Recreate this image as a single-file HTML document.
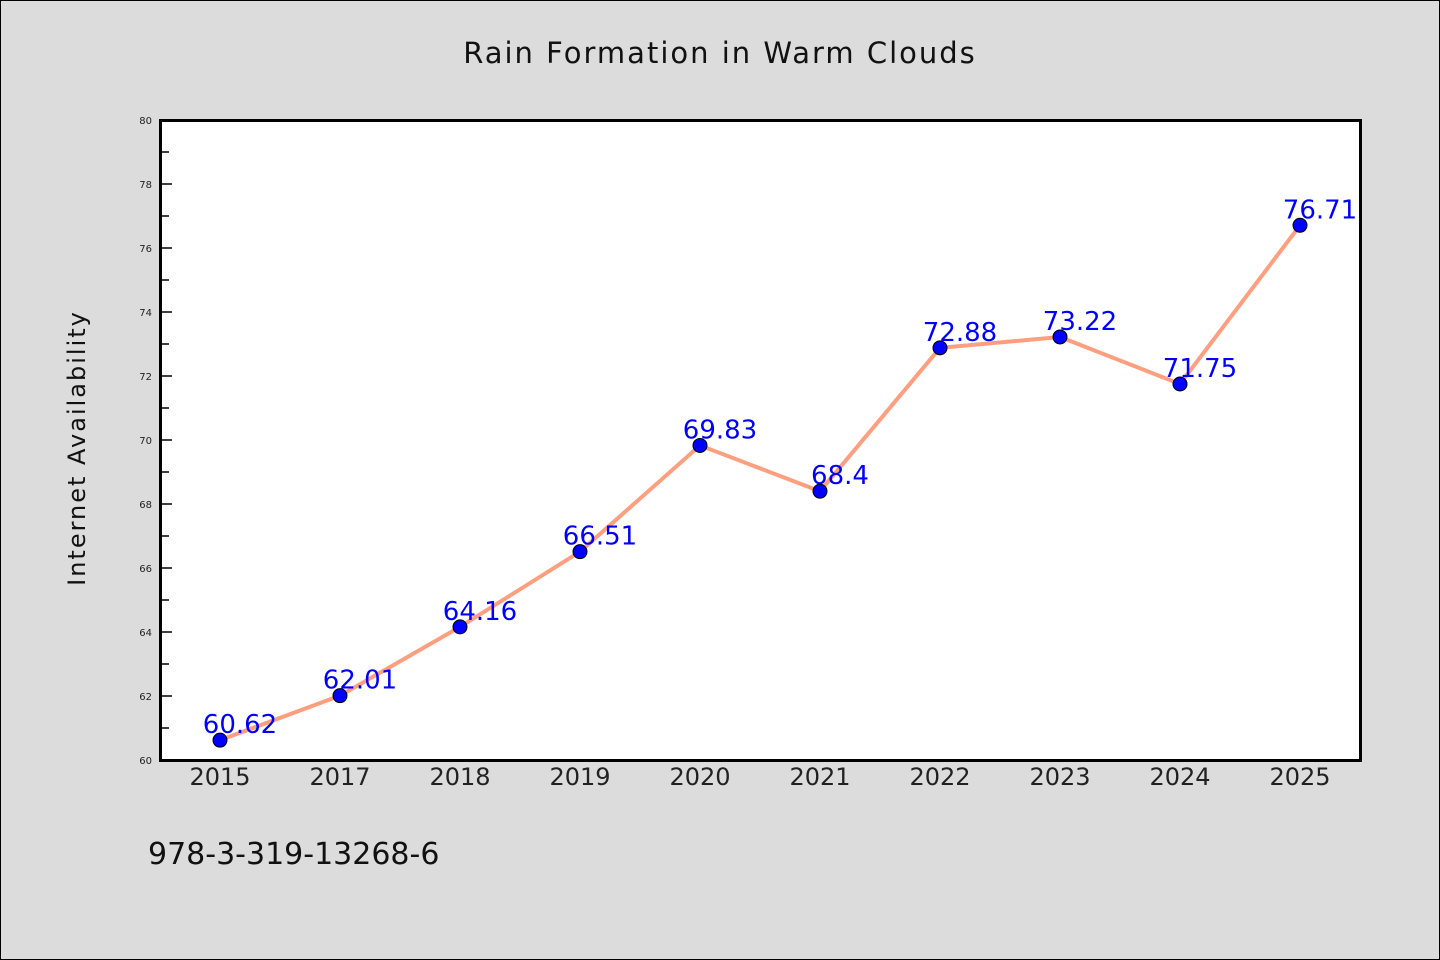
<!DOCTYPE html>
<html><head><meta charset="utf-8"><style>
body{margin:0;background:#dcdcdc;}
svg{display:block;font-family:"WenQuanYi Zen Hei","DejaVu Sans",sans-serif;}
</style></head><body>
<svg width="1440" height="960">
<rect x="0.5" y="0.5" width="1439" height="959" fill="#dcdcdc" stroke="#000"/>
<text x="720" y="63" text-anchor="middle" font-size="29" letter-spacing="2" fill="#111">Rain Formation in Warm Clouds</text>
<rect x="160.5" y="120.5" width="1200" height="640" fill="#fff"/>
<g id="yticks"></g><g id="xlabels"></g>
<g id="series"></g>
<rect x="160.5" y="120.5" width="1200" height="640" fill="none" stroke="#000" stroke-width="3"/>
<text transform="translate(85,448) rotate(-90)" text-anchor="middle" font-size="24" letter-spacing="2" fill="#111">Internet Availability</text>
<text x="148" y="864" font-size="30" fill="#111">978-3-319-13268-6</text>
</svg>
<script>
const categories=["2015","2017","2018","2019","2020","2021","2022","2023","2024","2025"];
const values=[60.62,62.01,64.16,66.51,69.83,68.4,72.88,73.22,71.75,76.71];
const valueLabels=["60.62","62.01","64.16","66.51","69.83","68.4","72.88","73.22","71.75","76.71"];
const yTicks=[60,62,64,66,68,70,72,74,76,78,80];
const NS="http://www.w3.org/2000/svg";
const y=v=>760-(v-60)*32;
const x=i=>220+i*120;
function mk(t,a,p){const e=document.createElementNS(NS,t);for(const k in a)e.setAttribute(k,a[k]);p.appendChild(e);return e;}
const yt=document.getElementById('yticks');
yTicks.forEach(v=>{
 const l=mk('line',{x1:160,x2:172,y1:y(v),y2:y(v),stroke:'#000','stroke-width':1.5},yt);
 
 
 const t=mk('text',{x:152,y:y(v)+4,'text-anchor':'end','font-size':10,fill:'#222'},yt);
 t.textContent=v;
 
 
 if(v<80){const m=mk('line',{x1:160,x2:169,y1:y(v+1),y2:y(v+1),stroke:'#000','stroke-width':1.5},yt);
 
 }
});
const xl=document.getElementById('xlabels');
categories.forEach((c,i)=>{
 const t=mk('text',{x:x(i),y:785,'text-anchor':'middle','font-size':24,fill:'#222'},xl);
 t.textContent=c;
 
 
});
const s=document.getElementById('series');
const line=mk('polyline',{points:values.map((v,i)=>x(i)+','+y(v)).join(' '),fill:'none',stroke:'#ff9f7f','stroke-width':4,'stroke-linejoin':'round'},s);


values.forEach((v,i)=>{
 const c=mk('circle',{cx:x(i),cy:y(v),r:7,fill:'#0000ff',stroke:'#000','stroke-width':1},s);
 
 
 const t=mk('text',{x:x(i)+20,y:y(v)-7,'text-anchor':'middle','font-size':26,fill:'#0000ff'},s);
 t.textContent=valueLabels[i];
 
 
});
</script>
</body></html>
